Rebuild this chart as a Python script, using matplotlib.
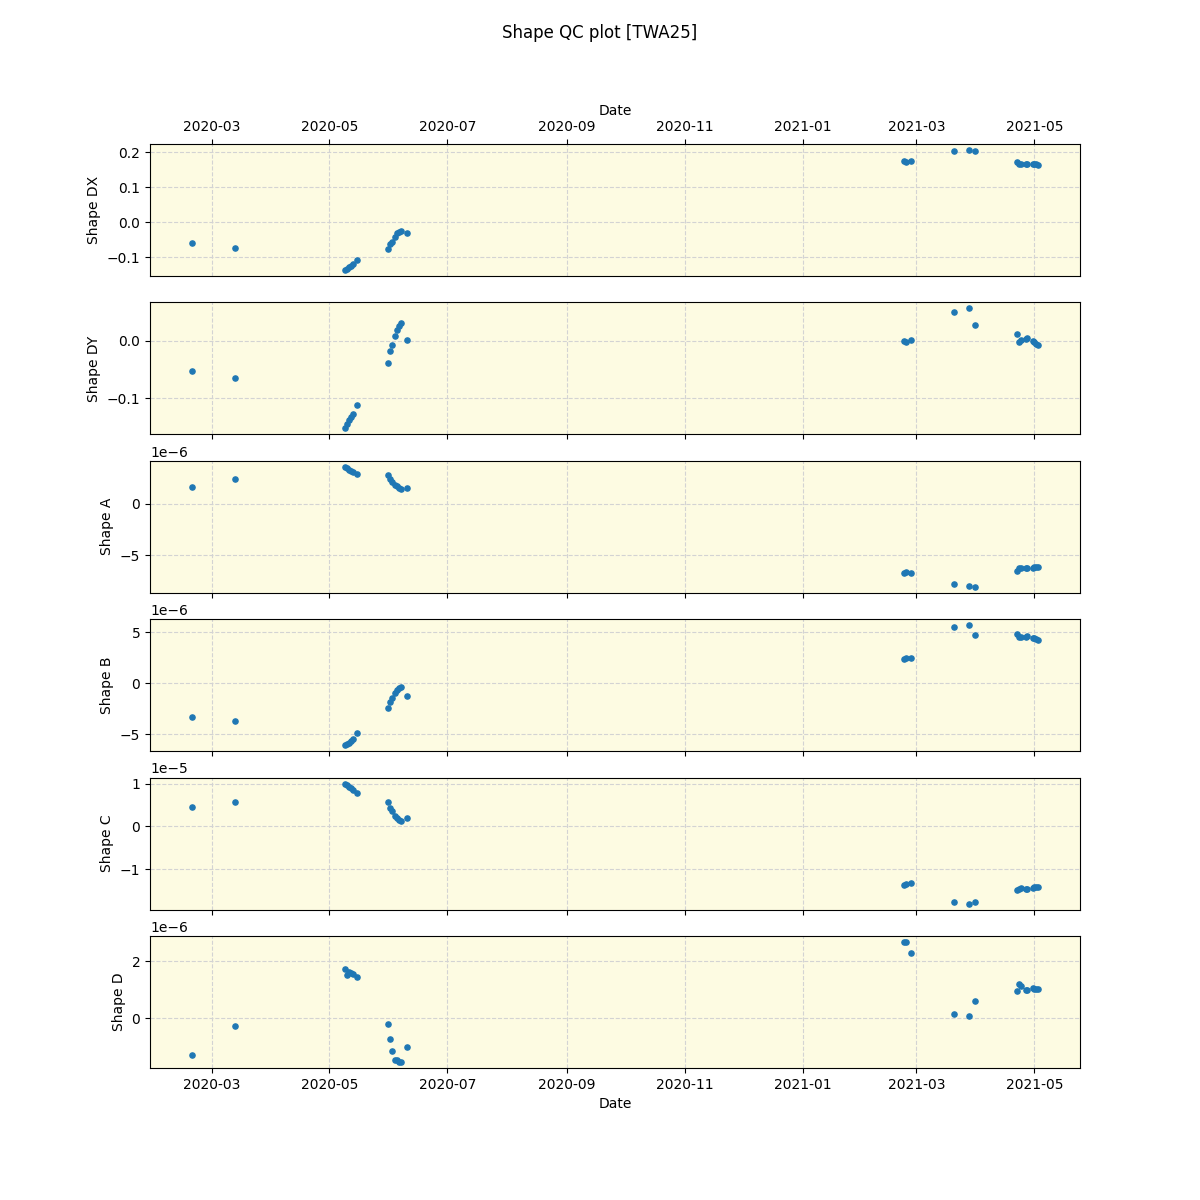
import matplotlib
matplotlib.use("Agg")
import matplotlib.pyplot as plt
import pandas as pd

dates = [
    "2020-02-20 00:00", "2020-03-13 00:00",
    "2020-05-09 00:00", "2020-05-10 00:00", "2020-05-11 00:00", "2020-05-12 00:00", "2020-05-13 00:00", "2020-05-15 12:00",
    "2020-05-31 08:00", "2020-06-01 12:00", "2020-06-02 14:00", "2020-06-04 00:00", "2020-06-05 05:00",
    "2020-06-06 02:00", "2020-06-07 07:00", "2020-06-10 10:00",
    "2021-02-22 14:00", "2021-02-23 17:00", "2021-02-26 07:00",
    "2021-03-20 14:00", "2021-03-28 05:00", "2021-03-31 12:00",
    "2021-04-22 02:00", "2021-04-23 02:00", "2021-04-24 02:00", "2021-04-26 14:00",
    "2021-04-27 10:00", "2021-04-30 07:00", "2021-05-01 00:00", "2021-05-01 17:00", "2021-05-02 19:00",
]

shape_dx = [
    -0.060, -0.074,
    -0.136, -0.133, -0.128, -0.124, -0.120, -0.108,
    -0.077, -0.062, -0.055, -0.041, -0.031, -0.027, -0.024, -0.031,
    0.174, 0.171, 0.174,
    0.203, 0.206, 0.203,
    0.171, 0.167, 0.166, 0.167, 0.166, 0.167, 0.166, 0.165, 0.163,
]

shape_dy = [
    -0.053, -0.064,
    -0.152, -0.145, -0.138, -0.132, -0.127, -0.112,
    -0.039, -0.018, -0.008, 0.008, 0.018, 0.026, 0.030, 0.002,
    -0.001, -0.003, 0.001,
    0.049, 0.056, 0.027,
    0.011, -0.003, 0.002, 0.003, 0.004, -0.0005, -0.003, -0.005, -0.008,
]

shape_a = [
    1.65e-6, 2.42e-6,
    3.61e-6, 3.45e-6, 3.32e-6, 3.19e-6, 3.13e-6, 2.90e-6,
    2.81e-6, 2.42e-6, 2.16e-6, 1.87e-6, 1.71e-6, 1.55e-6, 1.45e-6, 1.55e-6,
    -6.68e-6, -6.58e-6, -6.68e-6,
    -7.74e-6, -7.94e-6, -8.04e-6,
    -6.49e-6, -6.20e-6, -6.20e-6, -6.23e-6, -6.23e-6, -6.20e-6, -6.14e-6, -6.10e-6, -6.10e-6,
]

shape_b = [
    -3.34e-6, -3.74e-6,
    -6.10e-6, -5.97e-6, -5.84e-6, -5.67e-6, -5.51e-6, -4.92e-6,
    -2.46e-6, -1.81e-6, -1.48e-6, -0.92e-6, -0.66e-6, -0.43e-6, -0.39e-6, -1.25e-6,
    2.36e-6, 2.46e-6, 2.46e-6,
    5.51e-6, 5.70e-6, 4.72e-6,
    4.85e-6, 4.58e-6, 4.52e-6, 4.58e-6, 4.65e-6, 4.45e-6, 4.42e-6, 4.36e-6, 4.23e-6,
]

shape_c = [
    0.443e-5, 0.56e-5,
    1.00e-5, 0.964e-5, 0.924e-5, 0.894e-5, 0.854e-5, 0.784e-5,
    0.56e-5, 0.44e-5, 0.364e-5, 0.247e-5, 0.194e-5, 0.154e-5, 0.124e-5, 0.187e-5,
    -1.36e-5, -1.34e-5, -1.33e-5,
    -1.77e-5, -1.80e-5, -1.77e-5,
    -1.49e-5, -1.45e-5, -1.44e-5, -1.45e-5, -1.45e-5, -1.44e-5, -1.42e-5, -1.42e-5, -1.42e-5,
]

shape_d = [
    -1.27e-6, -0.25e-6,
    1.73e-6, 1.53e-6, 1.61e-6, 1.59e-6, 1.56e-6, 1.45e-6,
    -0.18e-6, -0.71e-6, -1.16e-6, -1.45e-6, -1.45e-6, -1.53e-6, -1.53e-6, -1.02e-6,
    2.68e-6, 2.68e-6, 2.29e-6,
    0.14e-6, 0.07e-6, 0.60e-6,
    0.95e-6, 1.21e-6, 1.14e-6, 1.00e-6, 0.99e-6, 1.06e-6, 1.04e-6, 1.02e-6, 1.02e-6,
]

labels = ["Shape DX", "Shape DY", "Shape A", "Shape B", "Shape C", "Shape D"]
series = [shape_dx, shape_dy, shape_a, shape_b, shape_c, shape_d]

x = pd.to_datetime(dates, format="%Y-%m-%d %H:%M")

fig, axes = plt.subplots(6, 1, figsize=(12, 12), dpi=100, sharex=True)
fig.suptitle("Shape QC plot [TWA25]")

for ax, lab, vals in zip(axes, labels, series):
    ax.set_facecolor("#FDFBE2")
    ax.scatter(x, vals, s=14, color="#1f77b4", zorder=3)
    ax.set_ylabel(lab)
    ax.grid(True, linestyle="--", color="lightgray", zorder=0)
    ax.set_axisbelow(True)

axes[0].xaxis.tick_top()
axes[0].xaxis.set_label_position("top")
axes[0].set_xlabel("Date")
axes[0].tick_params(axis="x", labeltop=True)
axes[-1].set_xlabel("Date")

fig.savefig("out.png", dpi=100)
